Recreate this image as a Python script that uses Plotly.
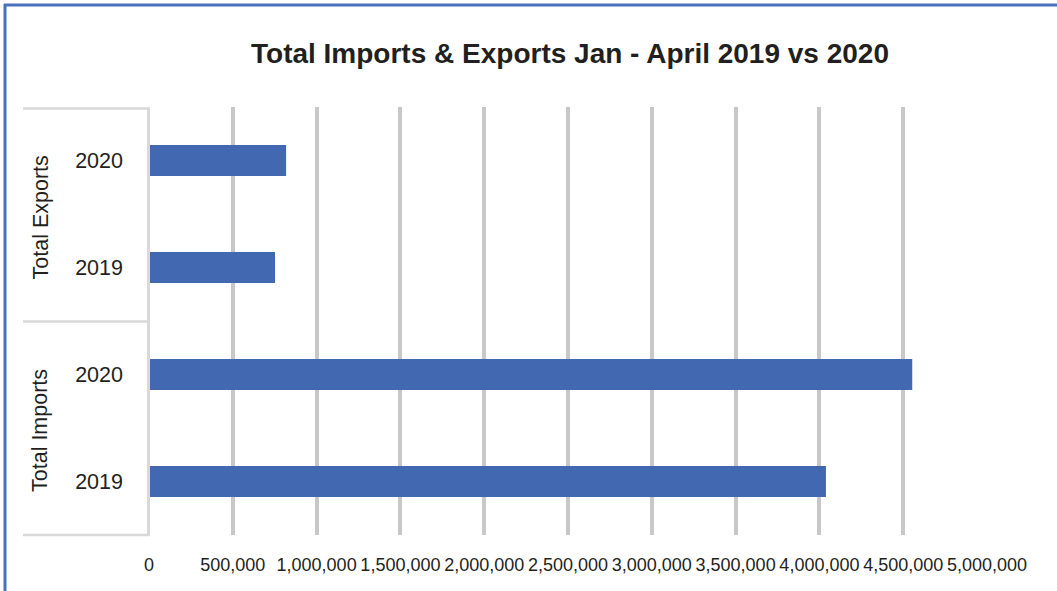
import plotly.graph_objects as go

# ---- data ----
groups = ["Total Imports", "Total Imports", "Total Exports", "Total Exports"]
years = ["2019", "2020", "2019", "2020"]
values = [4039000, 4554000, 752000, 818000]
x_tickvals = [0, 500000, 1000000, 1500000, 2000000, 2500000, 3000000, 3500000, 4000000, 4500000, 5000000]
x_ticktext = ["0", "500,000", "1,000,000", "1,500,000", "2,000,000", "2,500,000",
              "3,000,000", "3,500,000", "4,000,000", "4,500,000", "5,000,000"]
title_text = "Total Imports & Exports Jan - April 2019 vs 2020"

W, H = 1057, 591
L, R, T, B = 149, 70, 107, 56
PW = W - L - R
PH = H - T - B

def px(x):
    return (x - L) / PW

def py(y):
    return (H - B - y) / PH

keys = [f"{g} {y}" for g, y in zip(groups, years)]
FONT = "Liberation Sans, Arial, Helvetica, sans-serif"
TXT = "#231f20"
FRAME = "#d9d9d9"
BORDER = "#4a72bf"

fig = go.Figure(go.Bar(
    x=values, y=keys, orientation="h",
    marker=dict(color="#4168b0", line=dict(width=0)),
    width=0.29,
))

shapes = []
# blue outer border (top and left)
shapes.append(dict(type="line", xref="paper", yref="paper", x0=px(4), x1=px(W + 5), y0=py(5), y1=py(5),
                   line=dict(color=BORDER, width=3), layer="above"))
shapes.append(dict(type="line", xref="paper", yref="paper", x0=px(5), x1=px(5), y0=py(4), y1=py(H + 5),
                   line=dict(color=BORDER, width=3), layer="above"))
# category frame
for yy in [108.5, 321.5, 535]:
    shapes.append(dict(type="line", xref="paper", yref="paper", x0=px(23), x1=px(149.5), y0=py(yy), y1=py(yy),
                       line=dict(color=FRAME, width=2.5), layer="above"))
shapes.append(dict(type="line", xref="paper", yref="paper", x0=px(148.5), x1=px(148.5), y0=py(107.5), y1=py(536),
                   line=dict(color=FRAME, width=3), layer="above"))

annotations = [
    dict(text=f"<b>{title_text}</b>", xref="paper", yref="paper", x=px(569.5), y=py(53),
         showarrow=False, font=dict(family=FONT, size=28, color=TXT), xanchor="center", yanchor="middle"),
]
# group labels
group_order = []
for g in groups:
    if g not in group_order:
        group_order.append(g)
centers = {"Total Exports": 217.5, "Total Imports": 431}
for g in group_order:
    annotations.append(dict(text=g, xref="paper", yref="paper", x=px(40), y=py(centers[g]),
                            showarrow=False, textangle=-90,
                            font=dict(family=FONT, size=21.5, color=TXT),
                            xanchor="center", yanchor="middle"))

fig.update_layout(
    width=W, height=H,
    margin=dict(l=L, r=R, t=T, b=B, pad=0),
    paper_bgcolor="white", plot_bgcolor="white",
    showlegend=False,
    shapes=shapes,
    annotations=annotations,
    xaxis=dict(
        range=[0, 5000000], tickvals=x_tickvals, ticktext=x_ticktext,
        showgrid=True, gridcolor="#c8c8c8", gridwidth=3.5,
        zeroline=False, showline=False, ticks="",
        tickfont=dict(family=FONT, size=18, color=TXT),
        ticklabelstandoff=17, fixedrange=True,
    ),
    yaxis=dict(
        type="category", categoryorder="array", categoryarray=keys,
        tickvals=keys, ticktext=years, range=[-0.5, 3.5],
        showgrid=False, zeroline=False, showline=False, ticks="",
        tickfont=dict(family=FONT, size=21.5, color=TXT),
        ticklabelstandoff=25, fixedrange=True,
    ),
)

fig.write_html("out.html")
